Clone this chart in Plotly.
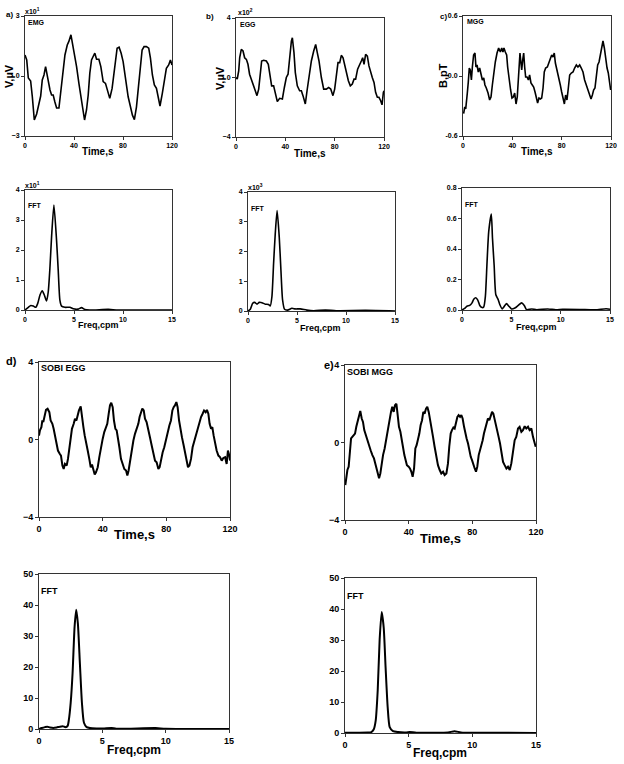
import plotly.graph_objects as go

W, H = 624, 764
FONT = "Liberation Sans, Arial, sans-serif"

# ---------------- time series ----------------
t_emg = [0, 1.4, 2.7, 4.6, 6, 7.6, 9.5, 11.4, 12.8, 14.1, 15.5, 16.8, 17.6, 19, 20.4, 21.7, 23, 24.4, 25.8, 27.7,
         29.3, 31.2, 32.6, 34.5, 35.8, 37.5, 38.8, 40.2, 42.1, 44, 45.9, 47.5, 48.6, 50.2, 51.6, 52.9, 54.3, 56.2, 57,
         58.4, 60.3, 61.9, 63.8, 65.7, 67, 69.2, 71.1, 72.8, 74.1, 75.2, 76.8, 78.5, 80.1, 82.3, 84.2, 86.1, 87.7,
         89.3, 91, 92.6, 94, 95.6, 97.2, 99.1, 101, 102.4, 104, 105.6, 107.3, 108.6, 110.2, 112.1, 114, 115.4, 117.3,
         118.7, 120]
v_emg = [1.05, 0.8, -0.1, -0.25, -1.05, -2.2, -1.9, -1.4, -1.0, -0.2, 0.05, 0.47, 0.2, -0.37, -0.7, -0.95, -0.95,
         -1.3, -1.6, -1.6, -0.7, 0.13, 1.05, 1.55, 1.73, 2.06, 1.64, 1.05, 0.47, -0.37, -1.2, -1.88, -2.2, -1.7, -0.95,
         0.13, 0.8, 1.05, 1.14, 0.84, 0.84, 0.47, -0.28, -0.37, -0.7, -1.12, -0.62, 0.22, 1.05, 1.39, 1.44, 1.14, 0.72,
         -0.28, -1.04, -1.54, -1.96, -2.18, -1.54, -0.54, 0.47, 1.3, 1.47, 1.47, 1.39, 0.89, 0.05, -0.45, -0.62, -1.12,
         -1.5, -0.87, -0.2, 0.38, 0.55, 0.8, 0.55]

t_egg = [0, 1, 2.2, 3, 4.3, 5.7, 7, 8.4, 9.7, 11, 12.4, 13.8, 15.1, 17, 18.4, 19.7, 20.8, 22.4, 24.6, 26.2, 27.8,
         28.9, 30.5, 32.2, 33.5, 35.4, 37.6, 39.2, 40.8, 42.2, 43.5, 44.9, 45.7, 47, 48.1, 49.7, 51.6, 53, 54.3, 56.2,
         57.6, 59.2, 61.1, 63, 64.6, 65.9, 67.3, 69.2, 71.1, 73.2, 75.1, 76.8, 78.6, 80, 81.4, 82.7, 84.1, 85.4, 86.8,
         88.1, 89.5, 91.1, 92.7, 94.3, 95.7, 97, 98.6, 100, 101.6, 102.7, 103.8, 105.1, 106.5, 107.8, 109.2, 110.5,
         111.9, 113.2, 114.6, 115.9, 117.3, 118.4, 119.5, 120]
v_egg = [0, -0.1, 0.44, 1.33, 1.89, 1.78, 1.33, 1.22, 0.89, 0.22, -0.11, -0.44, -0.67, -1.22, -0.78, 0.33, 1.11,
         1.16, 1.11, 0.89, 0.11, -0.56, -0.56, -1.11, -1.62, -1.4, -1.44, -0.67, 0, 0.22, 1.44, 2.44, 2.67, 1.67, 0.33,
         -0.56, -0.89, -0.89, -1.22, -1.78, -0.89, 0.11, 1.11, 1.78, 2.22, 1.67, 1.11, 0, -0.78, -0.78, -0.67, -0.78,
         -1.22, -0.78, 0.11, 1, 1, 1.49, 1.33, 0.89, 0.22, -0.22, -0.56, -0.44, -0.11, -0.11, 0.56, 0.78, 1.11, 1.33,
         0.89, 1.56, 1.44, 0.78, 0.33, 0, -0.33, -1, -1.33, -1.33, -1.56, -1.84, -1, -0.89]

t_mgg = [0.5, 1.4, 2.2, 2.7, 3.5, 4.3, 5.1, 5.9, 6.8, 7.6, 8.6, 9.7, 10.5, 11.4, 12.4, 13.5, 14.6, 15.7, 16.8, 17.8,
         18.9, 20.3, 21.6, 22.7, 23.8, 24.9, 26.2, 27.6, 28.9, 30.3, 31.4, 32.4, 33.2, 34.3, 35.4, 36.2, 37.3, 38.6,
         39.7, 40.8, 41.9, 43, 44, 45.1, 46.2, 47, 47.6, 48.4, 49.2, 50, 50.8, 51.9, 53, 54, 55.1, 56.2, 57.3, 58.4,
         59.5, 60.5, 61.6, 62.7, 63.8, 64.9, 65.9, 67, 68.4, 69.7, 70.8, 71.9, 73, 74, 74.9, 75.7, 76.8, 77.8, 78.9,
         80, 81.1, 82.2, 83.2, 84.3, 85.4, 86.5, 87.8, 89.2, 90.5, 91.9, 93.2, 94.6, 95.9, 97.3, 98.6, 100, 101.4,
         102.7, 103.8, 104.9, 105.9, 107, 108.1, 109.2, 110.3, 111.4, 112.4, 113.5, 114.6, 115.7, 116.8, 117.8, 118.9,
         119.7]
v_mgg = [-0.376, -0.31, -0.33, -0.22, -0.17, -0.06, 0.08, 0.06, -0.04, 0.09, 0.21, 0.23, 0.09, 0.11, 0.04, 0.08,
         0.01, -0.04, -0.02, -0.09, -0.12, -0.17, -0.24, -0.21, -0.09, 0.04, 0.14, 0.23, 0.28, 0.24, 0.28, 0.24, 0.28,
         0.24, 0.21, 0.09, -0.04, -0.14, -0.22, -0.21, -0.17, -0.28, -0.21, -0.01, 0.23, 0.13, 0.06, 0.16, 0.23, 0.09,
         -0.01, -0.01, -0.04, 0.01, -0.07, -0.09, -0.11, -0.16, -0.21, -0.27, -0.22, -0.23, -0.22, -0.12, 0.04, 0.08,
         0.09, 0.14, 0.19, 0.21, 0.19, 0.23, 0.13, 0.09, 0.01, -0.02, -0.09, -0.16, -0.24, -0.28, -0.19, -0.24, -0.12,
         0.01, 0.03, 0.04, 0.08, 0.11, 0.09, 0.11, 0.08, 0.04, -0.04, -0.09, -0.14, -0.17, -0.23, -0.19, -0.14, -0.12,
         -0.02, 0.11, 0.14, 0.21, 0.28, 0.35, 0.28, 0.16, 0.08, 0.03, -0.07, -0.14]

t_sobi_egg = [0, 0.6, 1.5, 2.1, 2.7, 3.6, 4.4, 5.4, 6.5, 7.3, 8.4, 9.2, 10.1, 11.1, 11.9, 13, 13.8, 14.7, 15.5, 16.3,
              17.4, 18.2, 19.1, 19.9, 20.7, 21.8, 22.6, 23.5, 24.3, 25.1, 26.2, 27, 27.9, 28.7, 29.5, 30.6, 31.6,
              32.5, 33.3, 34.1, 35, 35.8, 36.9, 37.9, 38.9, 40, 41, 41.9, 42.9, 43.8, 44.6, 45.4, 46.3, 47.1, 48,
              48.8, 49.6, 50.5, 51.5, 52.6, 53.6, 54.7, 55.5, 56.3, 57.2, 58.2, 59.3, 60.3, 61.4, 62.4, 63.2, 64.1,
              64.9, 65.8, 66.6, 67.6, 68.7, 69.7, 70.8, 71.8, 72.9, 73.9, 75, 75.8, 76.6, 77.7, 78.7, 79.8, 80.8,
              81.9, 82.9, 83.8, 84.6, 85.4, 86.3, 87.1, 88, 88.8, 89.8, 90.9, 91.9, 92.8, 93.6, 94.5, 95.5, 96.5,
              97.6, 98.6, 99.7, 100.7, 101.8, 102.8, 103.7, 104.7, 105.5, 106.4, 107.2, 108.1, 108.9, 109.7, 110.6,
              111.6, 112.7, 113.7, 114.8, 115.8, 116.9, 117.9, 118.7, 119.6, 120]
v_sobi_egg = [0.2, 0.47, 0.64, 0.98, 0.9, 1.24, 1.53, 1.59, 1.41, 0.98, 0.81, 0.55, 0.12, -0.31, -0.57, -0.74, -0.83,
              -1.34, -1.52, -1.26, -1.34, -1, -0.4, 0.12, 0.55, 0.81, 1.07, 0.98, 1.33, 1.5, 1.71, 1.07, 0.64, 0.21,
              -0.22, -0.57, -1, -1.43, -1.29, -1.52, -1.81, -1.69, -1.43, -0.91, -0.4, 0.03, 0.38, 0.64, 0.81, 1.33,
              1.76, 1.9, 1.67, 0.98, 0.55, 0.47, 0.12, -0.4, -1, -1.34, -1.52, -1.6, -1.86, -1.6, -1.09, -0.57, -0.05,
              0.29, 0.55, 0.81, 1.16, 1.41, 1.6, 1.5, 1.07, 0.9, 0.55, 0.12, -0.31, -0.74, -1.09, -1.17, -1.52, -1.43,
              -1, -0.66, -0.4, 0.03, 0.38, 0.72, 0.98, 1.5, 1.67, 1.76, 1.93, 1.67, 0.98, 0.55, 0.12, -0.31, -0.74,
              -1.09, -1.43, -1.34, -1, -0.4, -0.05, 0.29, 0.64, 0.9, 1.16, 1.33, 1.5, 1.41, 1.53, 1.33, 0.81, 0.55,
              0.64, 0.21, -0.22, -0.57, -0.83, -0.91, -1.09, -0.95, -0.91, -1.26, -0.57, -0.83, -1.09]

t_sobi_mgg = [0.2, 0.8, 1.5, 2.3, 2.9, 3.8, 4.6, 5.4, 6.3, 7.1, 8, 8.8, 9.6, 10.5, 11.3, 12.1, 13, 14, 15.1, 16.1,
              17.2, 18.2, 19.3, 20.3, 21.4, 22.2, 23, 23.9, 24.9, 26, 27, 28.1, 28.9, 29.7, 30.6, 31.4, 32.3, 33.1,
              33.9, 34.8, 35.6, 36.4, 37.3, 38.1, 38.9, 40, 40.8, 41.7, 42.5, 43.4, 44.2, 45, 45.9, 46.7, 47.5, 48.4,
              49.2, 50, 50.9, 51.7, 52.6, 53.4, 54.2, 55.3, 56.3, 57.4, 58.4, 59.5, 60.5, 61.6, 62.6, 63.7, 64.7,
              65.5, 66.4, 67.2, 68.1, 68.9, 69.7, 70.6, 71.4, 72.3, 73.1, 73.9, 74.8, 75.6, 76.4, 77.3, 78.1, 79,
              79.8, 80.6, 81.5, 82.3, 83.1, 84, 84.8, 85.7, 86.5, 87.3, 88.2, 89, 89.8, 90.7, 91.5, 92.4, 93.2, 94,
              94.9, 95.7, 96.5, 97.4, 98.2, 99.3, 100.3, 101.4, 102.4, 103.5, 104.5, 105.5, 106.6, 107.6, 108.7,
              109.7, 110.8, 111.8, 112.9, 113.9, 115, 116, 117.1, 118.1, 119.2, 119.8]
v_sobi_mgg = [-2.2, -1.77, -1.42, -1.25, -0.4, 0.21, 0.29, 0.38, 0.46, 0.81, 1.15, 1.49, 1.63, 1.24, 1.06, 0.64,
              0.38, 0.12, -0.14, -0.4, -0.65, -0.82, -1.17, -1.51, -1.85, -1.6, -1, -0.65, -0.31, 0.21, 0.81, 1.24,
              1.58, 1.84, 1.58, 1.92, 2.0, 1.41, 0.81, 0.55, 0.03, -0.22, -0.65, -0.91, -1.17, -1.25, -1.34, -1.51,
              -1.77, -1.34, -0.31, -0.14, 0.12, 0.46, 0.89, 1.15, 1.58, 1.49, 1.75, 1.84, 1.58, 1.15, 0.64, 0.29,
              -0.22, -0.74, -1.17, -1.42, -1.6, -1.51, -1.68, -1.6, -1.08, -0.22, 0.46, 0.64, 0.77, 0.72, 1.06, 1.32,
              1.41, 1.32, 1.41, 1.24, 0.81, 0.46, 0.21, -0.05, -0.4, -0.74, -0.91, -1.17, -1.34, -1.51, -1.25, -0.65,
              -0.4, -0.22, 0.12, 0.46, 0.72, 1.06, 1.24, 1.15, 1.41, 1.58, 1.49, 1.15, 0.89, 0.55, 0.29, -0.05, -0.57,
              -1.0, -1.17, -1.34, -1.25, -1.42, -1.08, -0.4, 0.12, 0.29, 0.72, 0.81, 0.55, 0.64, 0.84, 0.72, 0.81,
              0.64, 0.72, 0.29, 0.03, -0.22]

# ---------------- spectra ----------------
f_emg = [0, 0.34, 0.6, 0.85, 1.1, 1.3, 1.53, 1.76, 1.97, 2.2, 2.37, 2.55, 2.71, 2.95, 3.22, 3.39, 3.56, 3.73, 4.07,
         4.58, 4.92, 5.43, 5.77, 6.1, 6.6, 8.5, 9.5, 15]
p_emg = [0, 0.09, 0.15, 0.13, 0.09, 0.22, 0.5, 0.64, 0.5, 0.3, 0.6, 1.44, 2.43, 3.5, 2.32, 1.33, 0.33, 0.13, 0.09,
         0.09, 0.04, 0.03, 0.08, 0.02, 0, 0.02, 0, 0]

f_egg = [0, 0.24, 0.48, 0.68, 0.92, 1.15, 1.42, 1.76, 2.1, 2.27, 2.44, 2.61, 2.78, 2.97, 3.19, 3.36, 3.53, 3.73,
         4.04, 4.48, 4.82, 5.33, 6.0, 6.7, 7.9, 9, 12, 15]
p_egg = [0, 0.06, 0.26, 0.29, 0.23, 0.29, 0.28, 0.23, 0.22, 0.17, 0.48, 1.59, 2.59, 3.38, 2.48, 1.37, 0.37, 0.06,
         0.03, 0.09, 0.07, 0.07, 0.03, 0.01, 0.03, 0.01, 0.02, 0]

f_mgg = [0, 0.27, 0.5, 0.78, 1.02, 1.19, 1.39, 1.6, 1.8, 2.04, 2.2, 2.37, 2.54, 2.71, 2.97, 3.09, 3.26, 3.43, 3.66,
         3.83, 4.07, 4.24, 4.51, 4.75, 5.02, 5.36, 5.7, 6.04, 6.31, 6.55, 7.06, 7.57, 8.7, 9.5, 10.2, 12, 13.5,
         14.6, 15]
p_mgg = [0, 0.01, 0.025, 0.03, 0.047, 0.07, 0.08, 0.065, 0.03, 0.016, 0.02, 0.09, 0.315, 0.516, 0.63, 0.47, 0.29,
         0.1, 0.07, 0.036, 0.007, 0.02, 0.042, 0.025, 0.007, 0.013, 0.03, 0.047, 0.03, 0.002, 0.007, 0.002, 0.007,
         0.001, 0.004, 0.003, 0.001, 0.008, 0.005]

f_sobi_egg = [0, 0.21, 0.47, 0.66, 0.87, 1.13, 1.39, 1.65, 1.92, 2.1, 2.26, 2.36, 2.5, 2.65, 2.81, 2.94, 3.07,
              3.23, 3.39, 3.55, 3.76, 4.02, 4.54, 5.07, 5.73, 6.1, 9.2, 10, 15]
p_sobi_egg = [0, 0.3, 0.6, 0.75, 0.5, 0.35, 0.5, 0.75, 0.85, 0.6, 1.0, 3, 8.4, 18, 33, 38.5, 34, 21, 8.4, 2, 0.6,
              0.3, 0.2, 0.2, 0.35, 0.1, 0.3, 0.05, 0]

f_sobi_mgg = [0, 1, 1.8, 2.07, 2.25, 2.41, 2.57, 2.72, 2.88, 3.04, 3.19, 3.35, 3.51, 3.77, 4.16, 4.82, 5.08, 5.6, 7,
              8.1, 8.6, 9.1, 10, 11.6, 15]
p_sobi_mgg = [0.1, 0.1, 0.15, 0.3, 1.1, 4, 13.8, 30, 39, 34, 21, 8.4, 1.9, 0.6, 0.3, 0.2, 0.3, 0.1, 0.1, 0.2, 0.55,
              0.2, 0.05, 0.1, 0]

# ---------------- panel layout (pixel boxes: x0, x1, y0, y1) ----------------
panels = [
    # x, y, box, xrange, yrange, yticks, yticktext, xticks, tick size, smooth
    (t_emg, v_emg, (25, 172, 16, 136), [0, 120], [-3, 3], [-3, 0, 3], None, [0, 40, 80, 120], 7, False),
    (t_egg, v_egg, (236, 384, 18, 137), [0, 120], [-4, 4], [-4, 0, 4], None, [0, 40, 80, 120], 7, False),
    (t_mgg, v_mgg, (463, 611, 16, 136), [0, 120], [-0.6, 0.6], [-0.6, 0, 0.6], ["-0.6", "0.0", "0.6"],
     [0, 40, 80, 120], 7, False),
    (f_emg, p_emg, (25, 172, 190, 310), [0, 15], [0, 4], [0, 1, 2, 3, 4], None, [0, 5, 10, 15], 7, True),
    (f_egg, p_egg, (248, 395, 192, 311), [0, 15], [0, 4], [0, 1, 2, 3, 4], None, [0, 5, 10, 15], 7, True),
    (f_mgg, p_mgg, (462, 610, 188, 310), [0, 15], [0, 0.8], [0, 0.2, 0.4, 0.6, 0.8],
     ["0.0", "0.2", "0.4", "0.6", "0.8"], [0, 5, 10, 15], 7, True),
    (t_sobi_egg, v_sobi_egg, (39, 230, 362, 517), [0, 120], [-4, 4], [-4, 0, 4], None, [0, 40, 80, 120], 9, False),
    (t_sobi_mgg, v_sobi_mgg, (345, 536, 365, 520), [0, 120], [-4, 4], [-4, 0, 4], None, [0, 40, 80, 120], 9, False),
    (f_sobi_egg, p_sobi_egg, (39, 229, 574, 729), [0, 15], [0, 50], [0, 10, 20, 30, 40, 50], None,
     [0, 5, 10, 15], 9, True),
    (f_sobi_mgg, p_sobi_mgg, (345, 536, 578, 733), [0, 15], [0, 50], [0, 10, 20, 30, 40, 50], None,
     [0, 5, 10, 15], 9, True),
]

fig = go.Figure()
lay = {}
for i, (xs, ys, box, xr, yr, ytv, ytt, xtv, tsz, smooth) in enumerate(panels):
    n = "" if i == 0 else str(i + 1)
    x0, x1, y0, y1 = box
    lw = 1.6 if tsz == 7 else 2.0
    fig.add_trace(go.Scatter(x=xs, y=ys, mode="lines", xaxis="x" + n, yaxis="y" + n,
                             line=dict(color="black", width=lw, shape="spline" if smooth else "linear",
                                       smoothing=0.6),
                             showlegend=False, hoverinfo="skip"))
    common = dict(showgrid=False, zeroline=False, showline=True, linecolor="#333", linewidth=1, mirror=True,
                  ticks="outside", ticklen=3, tickcolor="#333", automargin=False,
                  tickfont=dict(family=FONT, size=tsz, color="black", weight="bold"))
    lay["xaxis" + n] = dict(common, domain=[x0 / W, x1 / W], range=xr, tickvals=xtv,
                            anchor="y" + n)
    lay["yaxis" + n] = dict(common, domain=[1 - y1 / H, 1 - y0 / H], range=yr, tickvals=ytv,
                            ticktext=ytt, anchor="x" + n)
fig.update_layout(**lay)


def txt(x, y, s, size, anchor="left", angle=0):
    fig.add_annotation(x=x / W, y=1 - y / H, xref="paper", yref="paper", text=s, showarrow=False,
                       xanchor=anchor, yanchor="middle", textangle=angle,
                       font=dict(family=FONT, size=size, color="black", weight="bold"))


# panel letters, scale factors and inner labels
txt(4, 15, "a)", 8)
txt(204, 17, "b)", 8)
txt(438, 16, "c)", 8)
txt(23, 11, "x10<sup>1</sup>", 7)
txt(236, 12, "x10<sup>2</sup>", 7)
txt(23, 185, "x10<sup>1</sup>", 7)
txt(246, 187, "x10<sup>3</sup>", 7)
txt(26, 23, "EMG", 7)
txt(238, 24, "EGG", 7)
txt(465, 22, "MGG", 7)
txt(26, 206, "FFT", 7)
txt(249, 208, "FFT", 7)
txt(463, 205, "FFT", 7)
txt(4, 361, "d)", 11)
txt(322, 365, "e)", 11)
txt(39, 368, "SOBI EGG", 9)
txt(345, 372, "SOBI MGG", 9)
txt(39, 591, "FFT", 9)
txt(345, 596, "FFT", 9)

# axis titles
txt(98, 151, "Time,s", 10, "center")
txt(310, 153, "Time,s", 10, "center")
txt(537, 151, "Time,s", 10, "center")
txt(98, 325, "Freq,cpm", 9, "center")
txt(321, 328, "Freq,cpm", 9, "center")
txt(536, 327, "Freq,cpm", 9, "center")
txt(134, 534, "Time,s", 13, "center")
txt(440, 538, "Time,s", 13, "center")
txt(134, 750, "Freq,cpm", 12, "center")
txt(440, 753, "Freq,cpm", 12, "center")
txt(9, 76, "V,µV", 11, "center", -90)
txt(220, 78, "V,µV", 11, "center", -90)
txt(443, 76, "B,pT", 11, "center", -90)

fig.update_layout(width=W, height=H, margin=dict(l=0, r=0, t=0, b=0), plot_bgcolor="white",
                  paper_bgcolor="white", font=dict(family=FONT))
# the page's default 8px body margin would shift the whole figure
fig.write_html("out.html", config={"displayModeBar": False},
               post_script="document.body.style.margin='0';")
